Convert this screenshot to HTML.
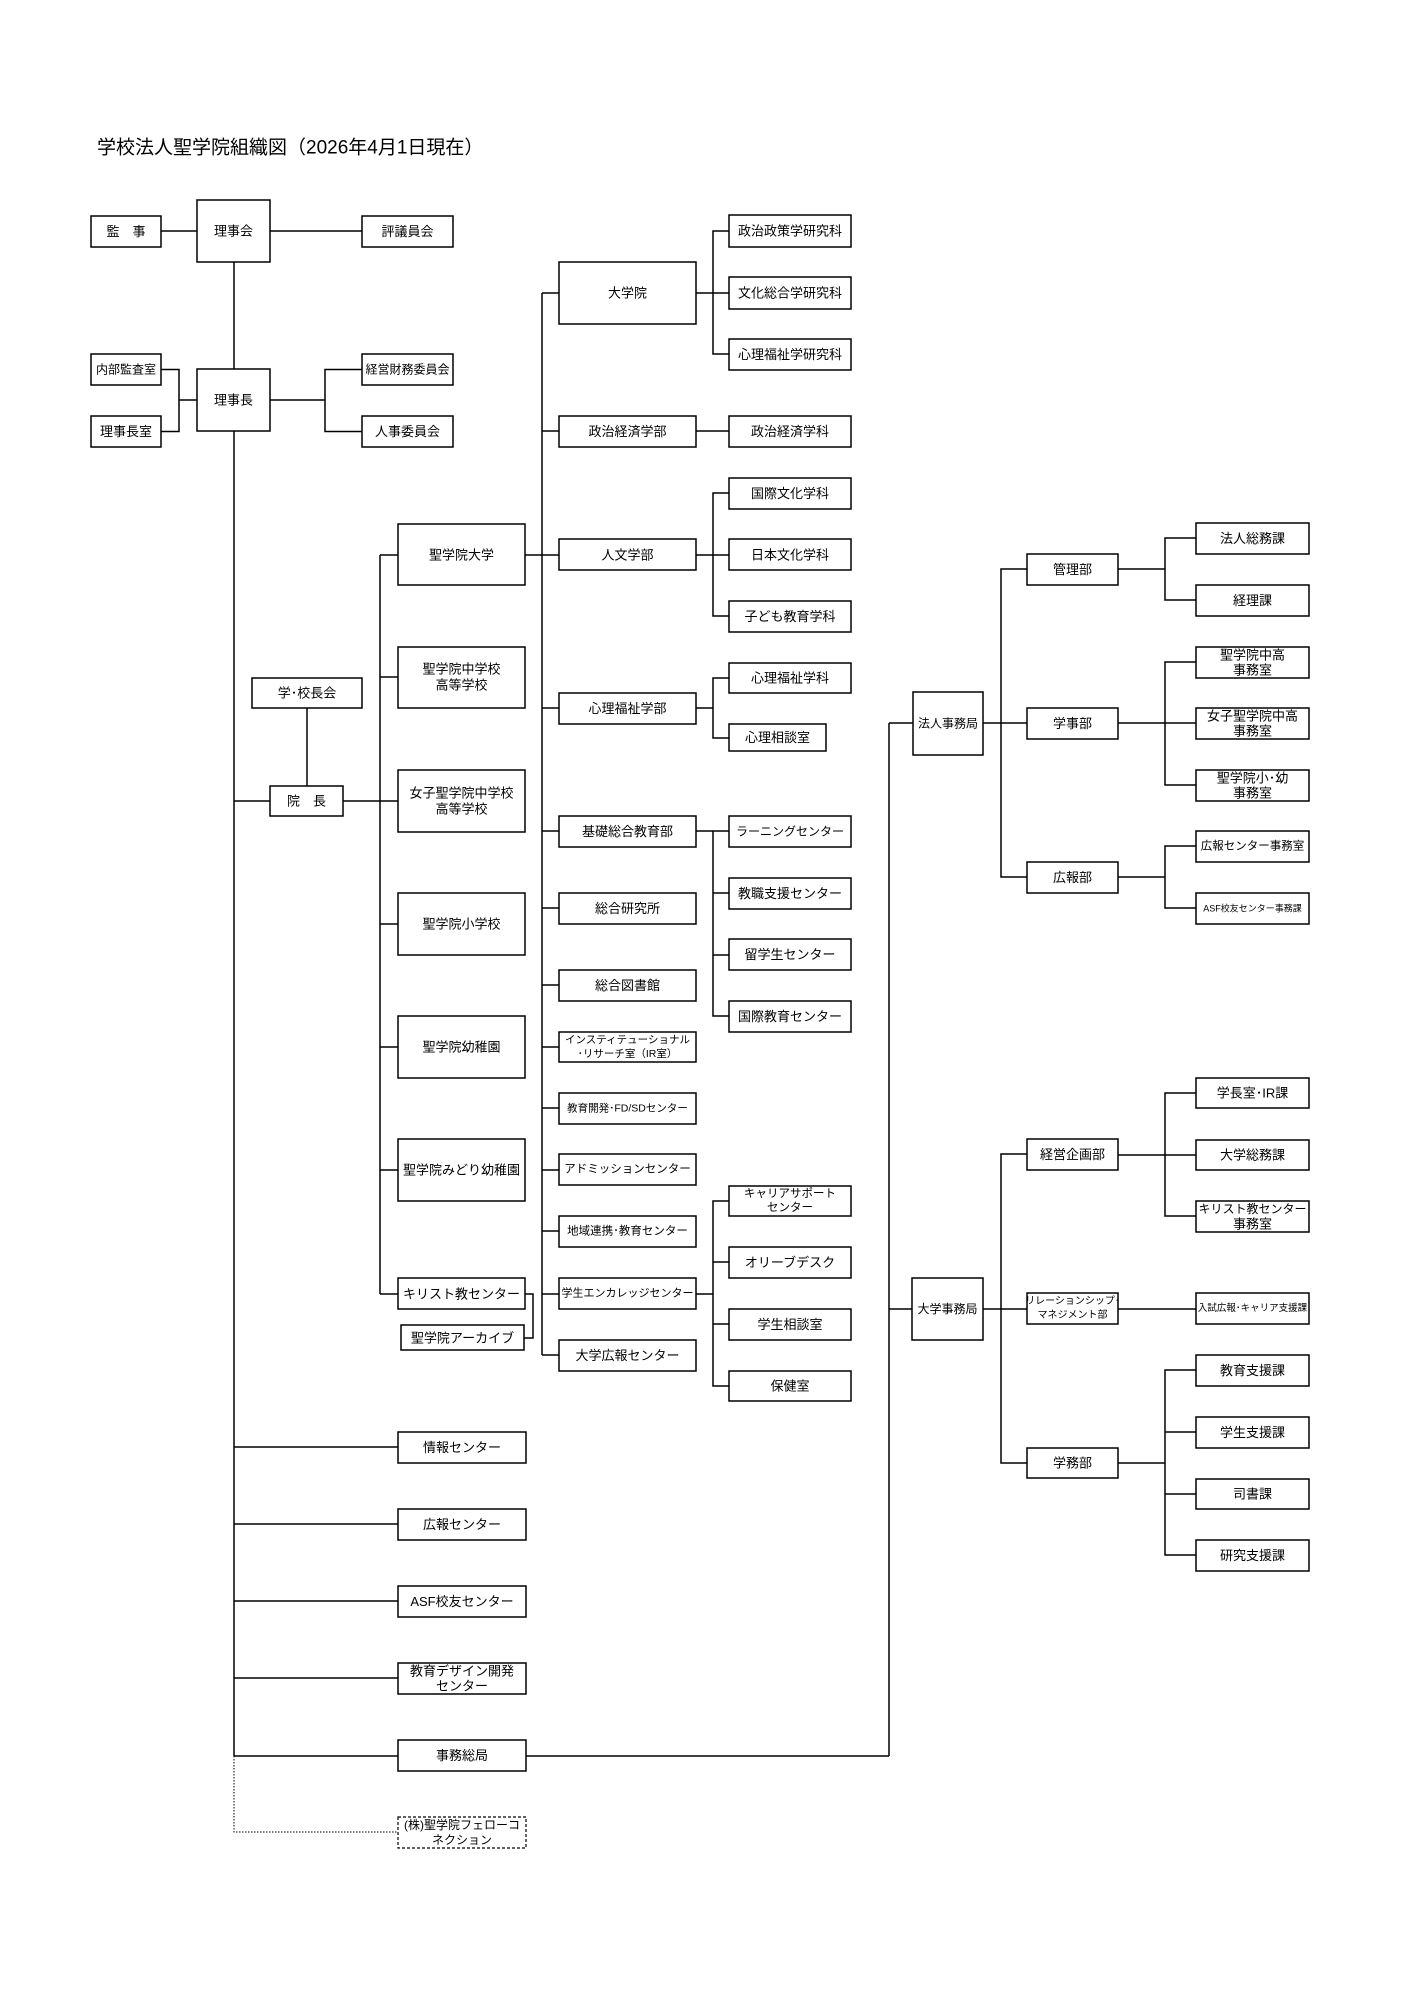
<!DOCTYPE html>
<html><head><meta charset="utf-8"><style>
html,body{margin:0;padding:0;background:#fff;width:1414px;height:2000px;overflow:hidden}
svg{display:block}
text{font-family:"Liberation Sans","Noto Sans CJK JP",sans-serif;font-size:13px;fill:#000;text-anchor:middle;dominant-baseline:central}
rect{fill:#fff;stroke:#000;stroke-width:1.5}
line,polyline{stroke:#000;stroke-width:1.5;fill:none}
</style></head><body>
<svg width="1414" height="2000" viewBox="0 0 1414 2000" xmlns="http://www.w3.org/2000/svg">
<text x="97" y="148" style="text-anchor:start;font-size:19px">学校法人聖学院組織図（2026年4月1日現在）</text>

<!-- lines -->
<line x1="161" y1="231" x2="197" y2="231"/>
<line x1="270" y1="231" x2="362" y2="231"/>
<line x1="234" y1="262" x2="234" y2="369"/>
<line x1="234" y1="431" x2="234" y2="1756"/>
<polyline points="161,369.5 179,369.5 179,431.5 161,431.5"/>
<line x1="179" y1="400" x2="197" y2="400"/>
<line x1="270" y1="400" x2="325" y2="400"/>
<polyline points="362,369.5 325,369.5 325,431.5 362,431.5"/>

<line x1="307" y1="708" x2="307" y2="786"/>
<line x1="234" y1="801" x2="270" y2="801"/>
<line x1="343" y1="801" x2="380" y2="801"/>
<line x1="380" y1="555" x2="380" y2="1294"/>
<line x1="380" y1="555" x2="398" y2="555"/>
<line x1="380" y1="677" x2="398" y2="677"/>
<line x1="380" y1="801" x2="398" y2="801"/>
<line x1="380" y1="924" x2="398" y2="924"/>
<line x1="380" y1="1047" x2="398" y2="1047"/>
<line x1="380" y1="1170" x2="398" y2="1170"/>
<line x1="380" y1="1294" x2="398" y2="1294"/>
<polyline points="525,1294 533,1294 533,1338 524,1338"/>

<line x1="542" y1="293" x2="542" y2="1355"/>
<line x1="525" y1="555" x2="559" y2="555"/>
<line x1="542" y1="293" x2="559" y2="293"/>
<line x1="542" y1="431" x2="559" y2="431"/>
<line x1="542" y1="708" x2="559" y2="708"/>
<line x1="542" y1="831" x2="559" y2="831"/>
<line x1="542" y1="908" x2="559" y2="908"/>
<line x1="542" y1="985" x2="559" y2="985"/>
<line x1="542" y1="1047" x2="559" y2="1047"/>
<line x1="542" y1="1108" x2="559" y2="1108"/>
<line x1="542" y1="1170" x2="559" y2="1170"/>
<line x1="542" y1="1231" x2="559" y2="1231"/>
<line x1="542" y1="1294" x2="559" y2="1294"/>
<line x1="542" y1="1355" x2="559" y2="1355"/>

<line x1="696" y1="293" x2="713" y2="293"/>
<polyline points="729,231 713,231 713,354 729,354"/>
<line x1="713" y1="293" x2="729" y2="293"/>
<line x1="696" y1="431" x2="729" y2="431"/>
<line x1="696" y1="555" x2="729" y2="555"/>
<polyline points="729,493 713,493 713,616 729,616"/>
<line x1="696" y1="708" x2="713" y2="708"/>
<polyline points="729,678 713,678 713,738 729,738"/>
<line x1="696" y1="831" x2="729" y2="831"/>
<polyline points="713,831 713,1016 729,1016"/>
<line x1="713" y1="893" x2="729" y2="893"/>
<line x1="713" y1="955" x2="729" y2="955"/>
<line x1="696" y1="1294" x2="713" y2="1294"/>
<polyline points="729,1201 713,1201 713,1386 729,1386"/>
<line x1="713" y1="1262" x2="729" y2="1262"/>
<line x1="713" y1="1324" x2="729" y2="1324"/>

<line x1="889" y1="723" x2="889" y2="1756"/>
<line x1="889" y1="723" x2="913" y2="723"/>
<line x1="526" y1="1756" x2="889" y2="1756"/>
<line x1="983" y1="723" x2="1027" y2="723"/>
<polyline points="1027,569 1001,569 1001,877 1027,877"/>
<line x1="1118" y1="569" x2="1165" y2="569"/>
<polyline points="1196,538 1165,538 1165,600 1196,600"/>
<line x1="1118" y1="723" x2="1196" y2="723"/>
<polyline points="1196,662 1165,662 1165,785 1196,785"/>
<line x1="1118" y1="877" x2="1165" y2="877"/>
<polyline points="1196,846 1165,846 1165,908 1196,908"/>

<line x1="889" y1="1309" x2="912" y2="1309"/>
<line x1="983" y1="1309" x2="1027" y2="1309"/>
<polyline points="1027,1154 1001,1154 1001,1463 1027,1463"/>
<line x1="1118" y1="1155" x2="1196" y2="1155"/>
<polyline points="1196,1093 1165,1093 1165,1216 1196,1216"/>
<line x1="1118" y1="1309" x2="1196" y2="1309"/>
<line x1="1118" y1="1463" x2="1165" y2="1463"/>
<polyline points="1196,1370 1165,1370 1165,1555 1196,1555"/>
<line x1="1165" y1="1432" x2="1196" y2="1432"/>
<line x1="1165" y1="1494" x2="1196" y2="1494"/>

<line x1="234" y1="1447" x2="398" y2="1447"/>
<line x1="234" y1="1524" x2="398" y2="1524"/>
<line x1="234" y1="1601" x2="398" y2="1601"/>
<line x1="234" y1="1678" x2="398" y2="1678"/>
<line x1="234" y1="1756" x2="398" y2="1756"/>
<polyline points="234,1756 234,1832 398,1832" style="stroke-width:1;stroke-dasharray:1.5,1.5"/>

<!-- boxes -->
<rect x="91" y="216" width="70" height="31"/><text x="126" y="231.5">監　事</text>
<rect x="197" y="200" width="73" height="62"/><text x="233.5" y="231">理事会</text>
<rect x="362" y="216" width="91" height="31"/><text x="407.5" y="231.5">評議員会</text>
<rect x="91" y="354" width="70" height="31"/><text x="126" y="369.5" style="font-size:12px">内部監査室</text>
<rect x="91" y="416" width="70" height="31"/><text x="126" y="431.5">理事長室</text>
<rect x="197" y="369" width="73" height="62"/><text x="233.5" y="400">理事長</text>
<rect x="362" y="354" width="91" height="31"/><text x="407.5" y="369.5" style="font-size:12px">経営財務委員会</text>
<rect x="362" y="416" width="91" height="31"/><text x="407.5" y="431.5">人事委員会</text>

<rect x="252" y="678" width="110" height="30"/><text x="307" y="693">学･校長会</text>
<rect x="270" y="786" width="73" height="30"/><text x="306.5" y="801">院　長</text>

<rect x="398" y="524" width="127" height="61"/><text x="461.5" y="555">聖学院大学</text>
<rect x="398" y="647" width="127" height="61"/><text x="461.5" y="669">聖学院中学校</text><text x="461.5" y="685">高等学校</text>
<rect x="398" y="770" width="127" height="62"/><text x="461.5" y="793">女子聖学院中学校</text><text x="461.5" y="809">高等学校</text>
<rect x="398" y="893" width="127" height="62"/><text x="461.5" y="924">聖学院小学校</text>
<rect x="398" y="1016" width="127" height="62"/><text x="461.5" y="1047">聖学院幼稚園</text>
<rect x="398" y="1139" width="127" height="62"/><text x="461.5" y="1170">聖学院みどり幼稚園</text>
<rect x="398" y="1278" width="127" height="31"/><text x="461.5" y="1294">キリスト教センター</text>
<rect x="401" y="1325" width="123" height="25"/><text x="462.5" y="1338">聖学院アーカイブ</text>

<rect x="559" y="262" width="137" height="62"/><text x="627.5" y="293">大学院</text>
<rect x="559" y="416" width="137" height="31"/><text x="627.5" y="431.5">政治経済学部</text>
<rect x="559" y="539" width="137" height="31"/><text x="627.5" y="555">人文学部</text>
<rect x="559" y="693" width="137" height="31"/><text x="627.5" y="708.5">心理福祉学部</text>
<rect x="559" y="816" width="137" height="31"/><text x="627.5" y="831.5">基礎総合教育部</text>
<rect x="559" y="893" width="137" height="31"/><text x="627.5" y="908.5">総合研究所</text>
<rect x="559" y="970" width="137" height="31"/><text x="627.5" y="985.5">総合図書館</text>
<rect x="559" y="1032" width="137" height="30"/><text x="627.5" y="1040" style="font-size:10.5px">インスティテューショナル</text><text x="627.5" y="1054" style="font-size:10.5px">･リサーチ室（IR室）</text>
<rect x="559" y="1093" width="137" height="31"/><text x="627.5" y="1108.5" style="font-size:10.5px">教育開発･FD/SDセンター</text>
<rect x="559" y="1154" width="137" height="31"/><text x="627.5" y="1169.5" style="font-size:11.5px">アドミッションセンター</text>
<rect x="559" y="1216" width="137" height="31"/><text x="627.5" y="1231.5" style="font-size:11.5px">地域連携･教育センター</text>
<rect x="559" y="1278" width="137" height="31"/><text x="627.5" y="1293.5" style="font-size:11px">学生エンカレッジセンター</text>
<rect x="559" y="1340" width="137" height="31"/><text x="627.5" y="1355.5">大学広報センター</text>

<rect x="729" y="215" width="122" height="32"/><text x="790" y="231">政治政策学研究科</text>
<rect x="729" y="277" width="122" height="32"/><text x="790" y="293">文化総合学研究科</text>
<rect x="729" y="339" width="122" height="31"/><text x="790" y="354.5">心理福祉学研究科</text>
<rect x="729" y="416" width="122" height="31"/><text x="790" y="431.5">政治経済学科</text>
<rect x="729" y="478" width="122" height="31"/><text x="790" y="493.5">国際文化学科</text>
<rect x="729" y="539" width="122" height="31"/><text x="790" y="555">日本文化学科</text>
<rect x="729" y="601" width="122" height="31"/><text x="790" y="616.5">子ども教育学科</text>
<rect x="729" y="663" width="122" height="30"/><text x="790" y="678">心理福祉学科</text>
<rect x="729" y="724" width="97" height="27"/><text x="777.5" y="737.5">心理相談室</text>
<rect x="729" y="816" width="122" height="31"/><text x="790" y="831.5" style="font-size:12px">ラーニングセンター</text>
<rect x="729" y="878" width="122" height="31"/><text x="790" y="893.5">教職支援センター</text>
<rect x="729" y="939" width="122" height="31"/><text x="790" y="954.5">留学生センター</text>
<rect x="729" y="1001" width="122" height="31"/><text x="790" y="1016.5">国際教育センター</text>
<rect x="729" y="1186" width="122" height="30"/><text x="790" y="1194" style="font-size:11.5px">キャリアサポート</text><text x="790" y="1208" style="font-size:11.5px">センター</text>
<rect x="729" y="1247" width="122" height="31"/><text x="790" y="1262.5">オリーブデスク</text>
<rect x="729" y="1309" width="122" height="31"/><text x="790" y="1324.5">学生相談室</text>
<rect x="729" y="1371" width="122" height="30"/><text x="790" y="1386">保健室</text>

<rect x="913" y="692" width="70" height="63"/><text x="948" y="723.5" style="font-size:12px">法人事務局</text>
<rect x="1027" y="554" width="91" height="31"/><text x="1072.5" y="569.5">管理部</text>
<rect x="1027" y="708" width="91" height="31"/><text x="1072.5" y="723.5">学事部</text>
<rect x="1027" y="862" width="91" height="31"/><text x="1072.5" y="877.5">広報部</text>
<rect x="1196" y="523" width="113" height="31"/><text x="1252.5" y="538.5">法人総務課</text>
<rect x="1196" y="585" width="113" height="31"/><text x="1252.5" y="600.5">経理課</text>
<rect x="1196" y="647" width="113" height="31"/><text x="1252.5" y="655">聖学院中高</text><text x="1252.5" y="670">事務室</text>
<rect x="1196" y="708" width="113" height="31"/><text x="1252.5" y="716">女子聖学院中高</text><text x="1252.5" y="731">事務室</text>
<rect x="1196" y="770" width="113" height="31"/><text x="1252.5" y="778">聖学院小･幼</text><text x="1252.5" y="793">事務室</text>
<rect x="1196" y="831" width="113" height="31"/><text x="1252.5" y="846.5" style="font-size:11.5px">広報センター事務室</text>
<rect x="1196" y="893" width="113" height="31"/><text x="1252.5" y="908.5" style="font-size:9px">ASF校友センター事務課</text>

<rect x="912" y="1278" width="71" height="62"/><text x="947.5" y="1309" style="font-size:12px">大学事務局</text>
<rect x="1027" y="1139" width="91" height="31"/><text x="1072.5" y="1154.5">経営企画部</text>
<rect x="1027" y="1293" width="91" height="31"/><text x="1072.5" y="1301.5" style="font-size:10px">リレーションシップ･</text><text x="1072.5" y="1315.5" style="font-size:10px">マネジメント部</text>
<rect x="1027" y="1448" width="91" height="30"/><text x="1072.5" y="1463">学務部</text>
<rect x="1196" y="1078" width="113" height="30"/><text x="1252.5" y="1093">学長室･IR課</text>
<rect x="1196" y="1140" width="113" height="30"/><text x="1252.5" y="1155">大学総務課</text>
<rect x="1196" y="1201" width="113" height="31"/><text x="1252.5" y="1209" style="font-size:12px">キリスト教センター</text><text x="1252.5" y="1224">事務室</text>
<rect x="1196" y="1293" width="113" height="31"/><text x="1252.5" y="1308.5" style="font-size:9.5px">入試広報･キャリア支援課</text>
<rect x="1196" y="1355" width="113" height="31"/><text x="1252.5" y="1370.5">教育支援課</text>
<rect x="1196" y="1417" width="113" height="31"/><text x="1252.5" y="1432.5">学生支援課</text>
<rect x="1196" y="1479" width="113" height="30"/><text x="1252.5" y="1494">司書課</text>
<rect x="1196" y="1540" width="113" height="31"/><text x="1252.5" y="1555.5">研究支援課</text>

<rect x="398" y="1432" width="128" height="31"/><text x="462" y="1447.5">情報センター</text>
<rect x="398" y="1509" width="128" height="31"/><text x="462" y="1524.5">広報センター</text>
<rect x="398" y="1586" width="128" height="31"/><text x="462" y="1601.5">ASF校友センター</text>
<rect x="398" y="1663" width="128" height="31"/><text x="462" y="1671">教育デザイン開発</text><text x="462" y="1686">センター</text>
<rect x="398" y="1740" width="128" height="31"/><text x="462" y="1755.5">事務総局</text>
<rect x="398" y="1817" width="128" height="31" style="stroke-dasharray:3,2;stroke-width:1.2"/><text x="462" y="1825" style="font-size:12px">(株)聖学院フェローコ</text><text x="462" y="1840" style="font-size:12px">ネクション</text>
</svg>
</body></html>
